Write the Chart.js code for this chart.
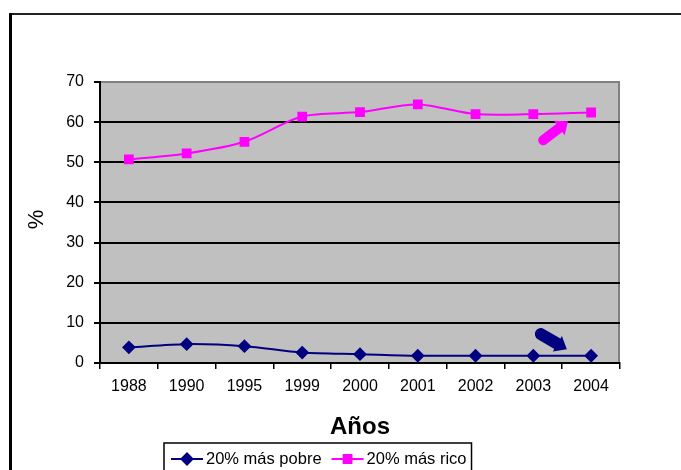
<!DOCTYPE html>
<html>
<head>
<meta charset="utf-8">
<script src="https://cdn.jsdelivr.net/npm/chart.js"></script>
<style>
  html, body { margin: 0; padding: 0; background: #fff; }
  #wrap { position: relative; width: 681px; height: 470px; }
</style>
</head>
<body>
<div id="wrap"><canvas id="chart" width="681" height="470"></canvas></div>
<script>
const years = ["1988", "1990", "1995", "1999", "2000", "2001", "2002", "2003", "2004"];
const pobre = [3.9, 4.7, 4.2, 2.6, 2.2, 1.8, 1.8, 1.8, 1.8];
const rico = [50.7, 52.2, 55.1, 61.4, 62.5, 64.4, 62.0, 62.0, 62.4];
const yTicks = [0, 10, 20, 30, 40, 50, 60, 70];
const seriesNames = ["20% más pobre", "20% más rico"];
const seriesColors = ["#000080", "#ff00ff"];

// hand drawn arrows next to 2003: [category index, value] tail -> tip
const arrowRico = [[7.17, 55.5], [7.6, 60.2]];
const arrowPobre = [[7.13, 7.2], [7.58, 3.4]];

const FONT = "Arial, 'Liberation Sans', sans-serif";

function drawArrow(ctx, chart, pts, color, width) {
  const x = chart.scales.x, y = chart.scales.y;
  const x0 = x.getPixelForValue(pts[0][0]), y0 = y.getPixelForValue(pts[0][1]);
  const x1 = x.getPixelForValue(pts[1][0]), y1 = y.getPixelForValue(pts[1][1]);
  const ang = Math.atan2(y1 - y0, x1 - x0);
  const head = 11;
  const bx = x1 - Math.cos(ang) * head, by = y1 - Math.sin(ang) * head;
  ctx.save();
  ctx.strokeStyle = color;
  ctx.fillStyle = color;
  ctx.lineWidth = width;
  ctx.lineCap = "round";
  ctx.beginPath();
  ctx.moveTo(x0, y0);
  ctx.lineTo(bx, by);
  ctx.stroke();
  ctx.beginPath();
  ctx.moveTo(x1, y1);
  ctx.lineTo(bx + Math.cos(ang + Math.PI / 2) * 9, by + Math.sin(ang + Math.PI / 2) * 9);
  ctx.lineTo(bx + Math.cos(ang - Math.PI / 2) * 9, by + Math.sin(ang - Math.PI / 2) * 9);
  ctx.closePath();
  ctx.fill();
  ctx.restore();
}

const decor = {
  id: "decor",
  beforeDraw(chart) {
    const ctx = chart.ctx;
    const a = chart.chartArea;
    ctx.save();
    ctx.fillStyle = "#fff";
    ctx.fillRect(0, 0, chart.width, chart.height);
    // outer frame (only top and left visible)
    ctx.fillStyle = "#222";
    ctx.fillRect(9, 13, chart.width - 9, 2);
    ctx.fillStyle = "#000";
    ctx.fillRect(9, 13, 3, chart.height - 13);
    // plot background
    ctx.fillStyle = "#c0c0c0";
    ctx.fillRect(a.left, a.top, a.right - a.left, a.bottom - a.top);
    ctx.strokeStyle = "#808080";
    ctx.lineWidth = 2;
    ctx.beginPath();
    ctx.moveTo(a.left, a.top);
    ctx.lineTo(a.right - 1, a.top);
    ctx.lineTo(a.right - 1, a.bottom);
    ctx.stroke();
    ctx.restore();
  },
  afterDraw(chart) {
    const ctx = chart.ctx;
    const a = chart.chartArea;
    drawArrow(ctx, chart, arrowRico, seriesColors[1], 10);
    drawArrow(ctx, chart, arrowPobre, seriesColors[0], 12);

    ctx.save();
    ctx.fillStyle = "#000";
    // y title
    ctx.font = "22px " + FONT;
    ctx.textAlign = "center";
    ctx.textBaseline = "middle";
    ctx.translate(37, (a.top + a.bottom) / 2 - 3);
    ctx.rotate(-Math.PI / 2);
    ctx.fillText("%", 0, 0);
    ctx.setTransform(1, 0, 0, 1, 0, 0);
    // x title
    ctx.font = "bold 24px " + FONT;
    ctx.textBaseline = "alphabetic";
    ctx.fillText("Años", (a.left + a.right) / 2, 434);

    // legend (box runs past the bottom edge)
    ctx.font = "16.5px " + FONT;
    ctx.textAlign = "left";
    ctx.textBaseline = "middle";
    const top = 443, h = 34, left = 164;
    let x = left + 7;
    const cy = 459;
    const styles = ["rectRot", "rect"];
    seriesNames.forEach((name, i) => {
      ctx.strokeStyle = seriesColors[i];
      ctx.fillStyle = seriesColors[i];
      ctx.lineWidth = 2;
      ctx.beginPath();
      ctx.moveTo(x, cy);
      ctx.lineTo(x + 32, cy);
      ctx.stroke();
      Chart.helpers.drawPoint(ctx, { pointStyle: styles[i], radius: 5.5, borderWidth: 1 }, x + 16, cy);
      ctx.fillStyle = "#000";
      ctx.fillText(name, x + 35, cy);
      x += 35 + ctx.measureText(name).width + 10;
    });
    ctx.strokeStyle = "#000";
    ctx.lineWidth = 1.5;
    ctx.strokeRect(left, top, x - 10 + 5 - left, h);
    ctx.restore();
  }
};

new Chart(document.getElementById("chart"), {
  type: "line",
  data: {
    labels: years,
    datasets: [
      {
        label: seriesNames[0],
        data: pobre,
        borderColor: seriesColors[0],
        backgroundColor: seriesColors[0],
        borderWidth: 2,
        pointStyle: "rectRot",
        pointRadius: 5.5,
        tension: 0.3,
      },
      {
        label: seriesNames[1],
        data: rico,
        borderColor: seriesColors[1],
        backgroundColor: seriesColors[1],
        borderWidth: 2,
        pointStyle: "rect",
        pointRadius: 5.5,
        tension: 0.3,
      },
    ],
  },
  options: {
    responsive: false,
    animation: false,
    layout: { padding: { left: 0, top: 82, right: 61, bottom: 0 } },
    plugins: {
      legend: { display: false },
      tooltip: { enabled: false },
    },
    scales: {
      x: {
        offset: true,
        grid: {
          offset: true,
          drawOnChartArea: false,
          drawTicks: true,
          tickLength: 6,
          color: "#000",
          lineWidth: 1.5,
        },
        border: { color: "#000", width: 2 },
        ticks: {
          color: "#000",
          font: { family: FONT, size: 16 },
          padding: 8,
          maxRotation: 0,
          autoSkip: false,
        },
        afterFit(scale) {
          scale.height = 107;
        },
      },
      y: {
        min: 0,
        max: 70,
        afterBuildTicks(scale) {
          scale.ticks = yTicks.map((v) => ({ value: v }));
        },
        grid: {
          color: (c) => (c.tick && c.tick.value === 70 ? "rgba(0,0,0,0)" : "#000"),
          tickColor: "#000",
          lineWidth: 2,
          tickLength: 6,
        },
        border: { color: "#000", width: 2 },
        ticks: {
          color: "#000",
          font: { family: FONT, size: 16 },
          padding: 10,
        },
        afterFit(scale) {
          scale.width = 100;
        },
      },
    },
  },
  plugins: [decor],
});
</script>
</body>
</html>
